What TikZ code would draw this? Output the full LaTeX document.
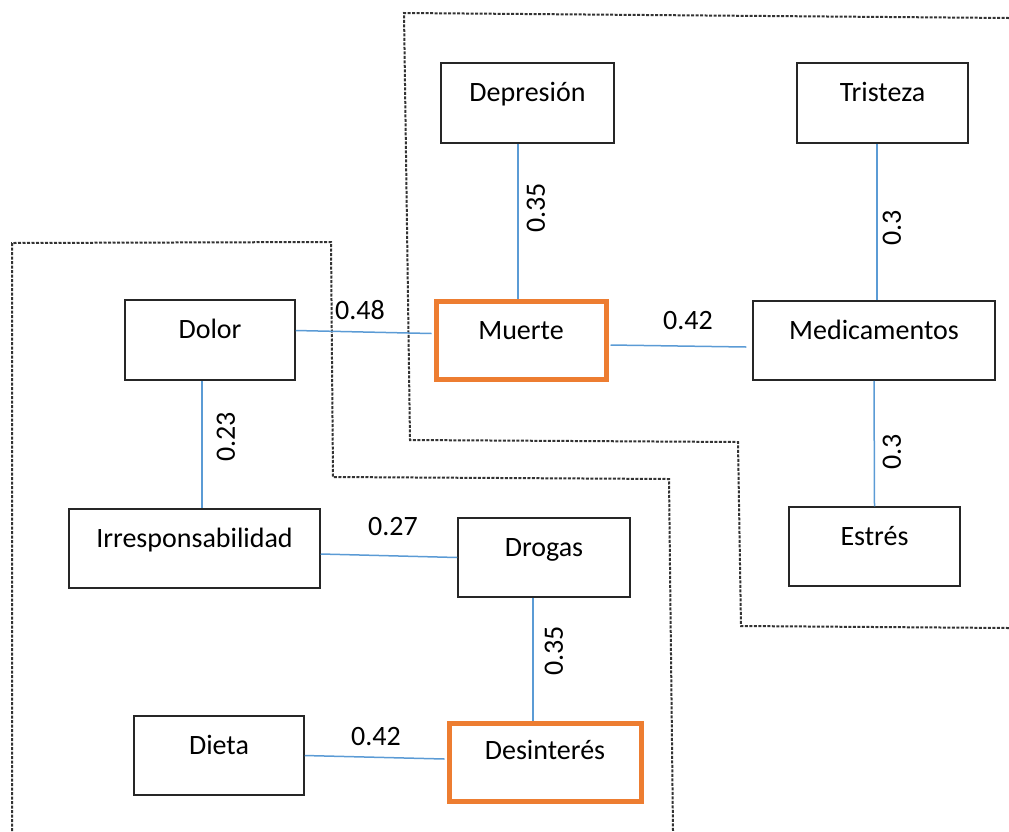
\documentclass[tikz,border=0pt]{standalone}
\usepackage{fontspec}
\setmainfont{Carlito}
\usetikzlibrary{calc}
\definecolor{linkblue}{HTML}{5B9BD5}
\definecolor{accent}{HTML}{ED7D31}

\begin{document}
\begin{tikzpicture}[x=1pt,y=-1pt,
  every node/.style={font=\fontsize{28}{34}\selectfont},
  box/.style={draw=black!85, line width=1.5pt, inner sep=0pt, rectangle},
  keybox/.style={draw=accent, line width=5pt, inner sep=0pt, rectangle},
  boxtext/.style={anchor=base, yshift=-39.5pt, inner sep=0pt},
  link/.style={draw=linkblue, line width=1.5pt},
  weight/.style={inner sep=0pt},
  vweight/.style={inner sep=0pt, rotate=90},
  region/.style={draw=black!80, line width=2pt, dash pattern=on 3pt off 1.5pt}]

\useasboundingbox (0,0) rectangle (1009,831);

% grouping regions
\draw[region] (1009,18) -- (404,13) -- (410,440) -- (738,442) -- (741,626) -- (1009,628);
\draw[region] (12,831) -- (12,243) -- (331,242) -- (333,477) -- (669,479) -- (673,831);

% concept boxes
\node[box, minimum width=173pt, minimum height=80pt, label={[boxtext]north:Depresión}] (dep) at (527.5,103) {};
\node[box, minimum width=171pt, minimum height=80pt, label={[boxtext]north:Tristeza}] (tri) at (882.5,103) {};
\node[box, minimum width=170pt, minimum height=80pt, label={[boxtext]north:Dolor}] (dol) at (210,340) {};
\node[keybox, minimum width=170pt, minimum height=78pt, label={[boxtext,yshift=-1pt]north:Muerte}] (mue) at (521,340) {};
\node[box, minimum width=242pt, minimum height=79pt, label={[boxtext]north:Medicamentos}] (med) at (874,340.5) {};
\node[box, minimum width=251pt, minimum height=79pt, label={[boxtext]north:Irresponsabilidad}] (irr) at (194.5,548.5) {};
\node[box, minimum width=172pt, minimum height=79pt, label={[boxtext]north:Drogas}] (dro) at (544,557.5) {};
\node[box, minimum width=171pt, minimum height=79pt, label={[boxtext]north:Estrés}] (est) at (874.5,546.5) {};
\node[box, minimum width=170pt, minimum height=79pt, label={[boxtext]north:Dieta}] (die) at (219,755.5) {};
\node[keybox, minimum width=192pt, minimum height=78pt, label={[boxtext,yshift=1pt]north:Desinterés}] (des) at (545,762) {};

% weighted links
\draw[link] ([xshift=-9.5pt]dep.south) -- ([xshift=-3pt]mue.north);
\draw[link] ([xshift=-5.5pt]tri.south) -- ([xshift=3pt]med.north);
\draw[link] (med.south) -- (est.north);
\draw[link] ([xshift=-8pt]dol.south) -- ([xshift=7.5pt]irr.north);
\draw[link] ([xshift=-11pt]dro.south) -- ([xshift=-12pt]des.north);
\draw[link] ([yshift=9.5pt]dol.east) -- ([xshift=-2pt,yshift=6.5pt]mue.west);
\draw[link] ([xshift=2pt,yshift=-5pt]mue.east) -- ([xshift=-6pt,yshift=-6.5pt]med.west);
\draw[link] ([yshift=-5.5pt]irr.east) -- (dro.west);
\draw[link] (die.east) -- ([xshift=-2pt,yshift=3pt]des.west);

% link weights
\node[weight] (w1) at (360,310) {0.48};
\node[weight] (w2) at (688,321) {0.42};
\node[weight] (w3) at (393,527) {0.27};
\node[weight] (w4) at (376,737) {0.42};
\node[vweight] (w5) at (536,208) {0.35};
\node[vweight] (w6) at (892,228) {0.3};
\node[vweight] (w7) at (226,437) {0.23};
\node[vweight] (w8) at (892,452) {0.3};
\node[vweight] (w9) at (554,651) {0.35};
\end{tikzpicture}
\end{document}
